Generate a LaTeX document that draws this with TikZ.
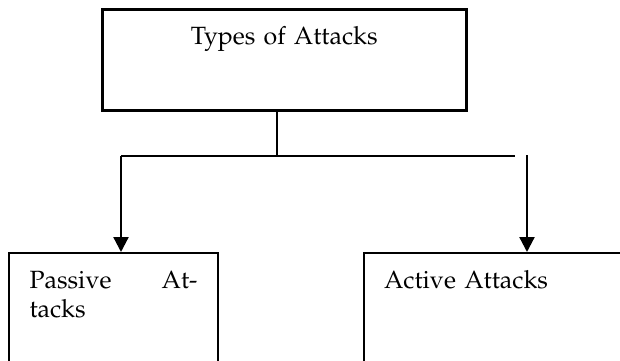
\documentclass[tikz,border=0pt]{standalone}
\usepackage[T1]{fontenc}
\usepackage{mathpazo}
\usepackage{tikz}
\usetikzlibrary{shapes,arrows.meta,positioning}

\tikzset{
  box/.style={draw, line width=1.2pt, rectangle, inner ysep=0pt,
    text height=0.7cm, font=\fontsize{14.2pt}{17pt}\selectfont},
  arr/.style={line width=1.3pt, -{Triangle[width=0.3cm,length=0.3cm]}},
  link/.style={line width=0.9pt}
}

\begin{document}
\begin{tikzpicture}[x=0.02cm,y=-0.02cm]
\useasboundingbox (0,0) rectangle (620,360);
\clip (0,0) rectangle (620,360);
% boxes
\node[box, line width=1.5pt, anchor=north west, inner xsep=0.4cm, text width=6.48cm,
  text depth=1.32cm, align=center] (types) at (101,8) {Types of Attacks};
\node[box, anchor=north west, inner xsep=0.41cm, text width=3.36cm,
  text depth=2.6cm, align=left] (passive) at (8,252) {Passive\hfill At-\\tacks};
\node[box, anchor=north west, inner xsep=0.4cm, text width=5.2cm,
  text depth=2.6cm, align=left] (active) at (363,252) {Active Attacks};
% connectors
\coordinate (split) at (277,156);
\coordinate (lend) at (121,156);
\coordinate (rend) at (515,156);
\coordinate (rtop) at (527,155);
\draw[link] (types.south -| split) -- (split);
\draw[link] (lend) -- (rend);
\draw[arr] (lend) -- (passive.north -| lend);
\draw[arr] (rtop) -- (active.north -| rtop);
\end{tikzpicture}
\end{document}
